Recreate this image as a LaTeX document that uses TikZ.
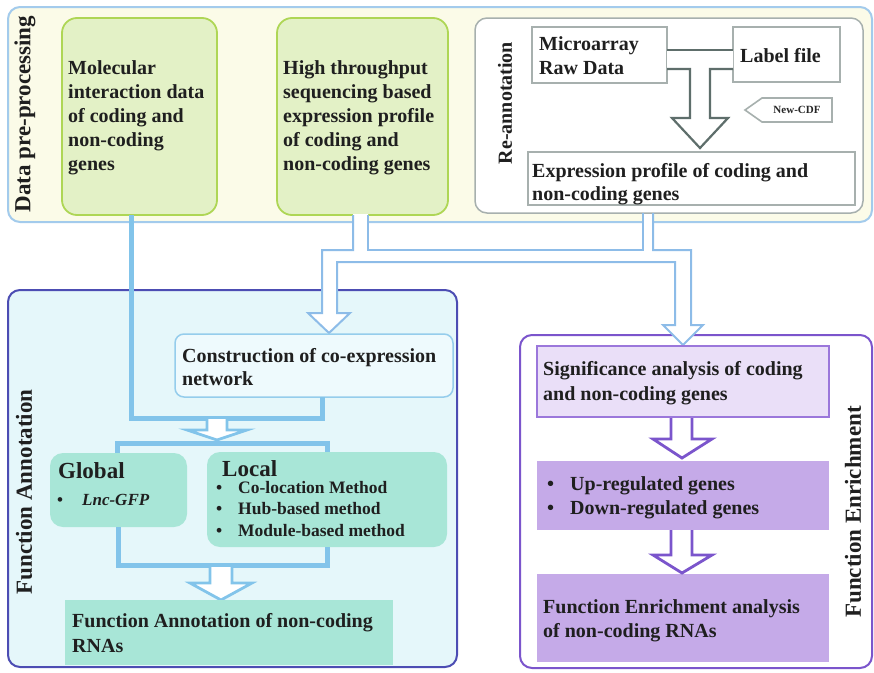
\documentclass[tikz,border=0pt]{standalone}
\usepackage{fontspec}
\setmainfont{Liberation Serif}
\usetikzlibrary{calc}

\definecolor{prepBorder}{HTML}{A3CBEC}
\definecolor{prepFill}{HTML}{FBFBE8}
\definecolor{greenFill}{HTML}{E3F1C6}
\definecolor{greenBorder}{HTML}{AED655}
\definecolor{grayBorder}{HTML}{A7B0AE}
\definecolor{tDark}{HTML}{5E6E6B}
\definecolor{annBorder}{HTML}{4C4DB3}
\definecolor{annFill}{HTML}{E5F7FA}
\definecolor{coexFill}{HTML}{EEFAFD}
\definecolor{coexBorder}{HTML}{95CDEC}
\definecolor{mint}{HTML}{A8E6D7}
\definecolor{flowBlue}{HTML}{82C4EA}
\definecolor{pipeBlue}{HTML}{8DBCE8}
\definecolor{enrBorder}{HTML}{7B55CC}
\definecolor{sigFill}{HTML}{EADFF8}
\definecolor{sigBorder}{HTML}{9B77DB}
\definecolor{lav}{HTML}{C5AAE8}

\tikzset{
  box/.style={rectangle, inner sep=0pt, outer sep=0pt},
  panel/.style={box, rounded corners=12pt, line width=2pt},
  greenbox/.style={box, rounded corners=15pt, draw=greenBorder, fill=greenFill, line width=1.8pt},
  graybox/.style={box, draw=grayBorder, fill=white, line width=2pt},
  coexbox/.style={box, rounded corners=9pt, draw=coexBorder, fill=coexFill, line width=1.5pt},
  mintbox/.style={box, fill=mint},
  mintround/.style={box, fill=mint, rounded corners=13pt},
  sigbox/.style={box, draw=sigBorder, fill=sigFill, line width=2pt},
  lavbox/.style={box, fill=lav},
  body/.style={font=\fontsize{20}{24}\selectfont\bfseries, align=left, inner sep=0pt, anchor=north west, text=black!88},
  sidelabel/.style={font=\fontsize{23}{27}\selectfont\bfseries, inner sep=0pt, rotate=90, text=black!88},
  flow/.style={draw=flowBlue, line width=5pt},
  hollow/.style={draw=flowBlue, fill=white, line width=2.8pt, line join=miter},
  pipe/.style={draw=pipeBlue, line width=2pt, line join=miter},
  purplearrow/.style={draw=enrBorder, fill=white, line width=2.8pt, line join=miter},
  tline/.style={draw=tDark, line width=2.2pt, line join=miter},
}

\begin{document}
\begin{tikzpicture}[x=1pt, y=-1pt]
\useasboundingbox (0,0) rectangle (874,672);

% ---------- Data pre-processing ----------
\node[panel, draw=prepBorder, fill=prepFill, minimum width=864pt, minimum height=215pt] (prep) at (440,114.5) {};
\node[sidelabel] (preplab) at (25,114) {Data pre-processing};

\node[greenbox, minimum width=155pt, minimum height=197pt] (mol) at (139.5,116.5) {};
\node[body] (moltext) at (68,60) {Molecular\\interaction data\\of coding and\\non-coding\\genes};

\node[greenbox, minimum width=171pt, minimum height=197pt] (hts) at (362.5,116.5) {};
\node[body] (htstext) at (283,60) {High throughput\\sequencing based\\expression profile\\of coding and\\non-coding genes};

% re-annotation block
\node[box, rounded corners=12pt, draw=grayBorder, fill=white, line width=1.5pt, minimum width=388pt, minimum height=195pt] (reann) at (669,115.5) {};
\node[sidelabel, font=\fontsize{20}{24}\selectfont\bfseries] (reannlab) at (505,103) {Re-annotation};

\node[graybox, minimum width=135pt, minimum height=56pt] (micro) at (599.5,55) {};
\node[body] (microtext) at (539,36) {Microarray\\Raw Data};
\node[graybox, minimum width=107pt, minimum height=55pt] (lab) at (786.5,54.5) {};
\node[body, anchor=base west] (labtext) at (740,62) {Label file};

% merge arrow between raw data / label file and the expression profile
\coordinate (tl) at (micro.east |- 0,50);
\coordinate (tr) at (lab.west |- 0,50);
\fill[white] (tl) -- (tr) -- (lab.west |- 0,69) -- (710,69) -- (710,118) -- (728,118) -- (700,148)
  -- (672,118) -- (690,118) -- (690,69) -- (micro.east |- 0,69) -- cycle;
\draw[tline] (tl) -- (tr);
\draw[tline] (micro.east |- 0,69) -- (690,69) -- (690,118) -- (672,118) -- (700,148)
  -- (728,118) -- (710,118) -- (710,69) -- (lab.west |- 0,69);

% New-CDF tag
\draw[draw=grayBorder, fill=white, line width=1.6pt] (745,110) -- (762,98) -- (832,98) -- (832,122) -- (762,122) -- cycle;
\node[font=\fontsize{11}{13}\selectfont\bfseries, inner sep=0pt, text=black!85] (cdf) at (797,110) {New-CDF};

\node[graybox, minimum width=327pt, minimum height=53pt] (expr) at (691.5,178.5) {};
\node[body, font=\fontsize{20}{23}\selectfont\bfseries] (exprtext) at (532,163) {Expression profile of coding and\\non-coding genes};

% ---------- Function Annotation ----------
\node[panel, draw=annBorder, fill=annFill, minimum width=449pt, minimum height=377pt] (ann) at (232.5,478.5) {};
\node[sidelabel] (annlab) at (24,492) {Function Annotation};

% ---------- Function Enrichment ----------
\node[panel, draw=enrBorder, fill=white, minimum width=352pt, minimum height=333pt] (enr) at (696,501.5) {};
\node[sidelabel] (enrlab) at (853,512) {Function Enrichment};

% split pipe from the expression profiles to both branches
\fill[white] (353,214) -- (353,250) -- (322,250) -- (322,313) -- (308,313) -- (329,333) -- (350,313)
  -- (337,313) -- (337,262) -- (675,262) -- (675,325) -- (663,325) -- (683,345) -- (703,325)
  -- (691,325) -- (691,250) -- (653,250) -- (653,214) -- (643,214) -- (643,250) -- (368,250)
  -- (368,214) -- cycle;
\draw[pipe] (hts.south -| 353,0) -- (353,250) -- (322,250) -- (322,313) -- (308,313) -- (329,333)
  -- (350,313) -- (337,313) -- (337,262) -- (675,262) -- (675,325) -- (663,325) -- (683,345)
  -- (703,325) -- (691,325) -- (691,250) -- (653,250) -- (reann.south -| 653,0);
\draw[pipe] (reann.south -| 643,0) -- (643,250) -- (368,250) -- (hts.south -| 368,0);

% interaction data feeds the annotation step
\coordinate (j1) at (322,418);
\draw[flow] (mol.south -| 131,0) |- (j1);

\node[coexbox, minimum width=278pt, minimum height=63pt] (coex) at (314,365.5) {};
\node[body, font=\fontsize{20}{23}\selectfont\bfseries] (coextext) at (182,348) {Construction of co-expression\\network};
\draw[flow] (coex.south -| j1) -- ([yshift=-2.5pt]j1);

\draw[hollow] (207,419) -- (207,430) -- (187,430) -- (217,440) -- (247,430) -- (227,430) -- (227,419);

% global / local strategies
\coordinate (j2) at (117,443);
\coordinate (j3) at (327,443);
\draw[flow] (117,470) -- (j2) -- (j3) -- (327,470);
\node[mintround, minimum width=137pt, minimum height=74pt] (global) at (118.5,490) {};
\node[mintround, minimum width=240pt, minimum height=95pt] (local) at (327,499.5) {};

\node[font=\fontsize{23}{27}\selectfont\bfseries, inner sep=0pt, anchor=base west, text=black!88] (globaltext) at (58,478) {Global};
\node[font=\fontsize{17}{20}\selectfont\bfseries, inner sep=0pt, anchor=base west, text=black!88] (lnc) at (57,505) {\makebox[25pt][l]{\textbullet}\textit{Lnc-GFP}};
\node[font=\fontsize{23}{27}\selectfont\bfseries, inner sep=0pt, anchor=base west, text=black!88] (localtext) at (222,476) {Local};
\node[body, font=\fontsize{17.5}{21.5}\selectfont\bfseries] (locallist) at (216,481)
  {\makebox[22pt][l]{\textbullet}Co-location Method\\\makebox[22pt][l]{\textbullet}Hub-based method\\\makebox[22pt][l]{\textbullet}Module-based method};

\coordinate (j4) at (118,565);
\coordinate (j5) at (327,565);
\draw[flow] (global.south -| j4) -- (j4) -- (j5) -- (local.south -| j5);
\draw[hollow] (210,567) -- (210,583) -- (190,583) -- (221,600) -- (252,583) -- (232,583) -- (232,567);

\node[mintbox, minimum width=328pt, minimum height=65pt] (fannot) at (229,632.5) {};
\node[body, font=\fontsize{20}{25}\selectfont\bfseries] (fannottext) at (72,613) {Function Annotation of non-coding\\RNAs};

% enrichment chain
\node[sigbox, minimum width=292pt, minimum height=71pt] (sig) at (683,381.5) {};
\node[body, font=\fontsize{20}{25}\selectfont\bfseries] (sigtext) at (543,361) {Significance analysis of coding\\and non-coding genes};

\node[lavbox, minimum width=292pt, minimum height=69pt] (updown) at (683,495.5) {};
\node[body] (updowntext) at (547,476) {\makebox[23pt][l]{\textbullet}Up-regulated genes\\\makebox[23pt][l]{\textbullet}Down-regulated genes};

\node[lavbox, minimum width=292pt, minimum height=88pt] (fenr) at (683,618) {};
\node[body] (fenrtext) at (543,599) {Function Enrichment analysis\\of non-coding RNAs};

\draw[purplearrow] (671,418) -- (671,439) -- (653,439) -- (682,458) -- (712,439) -- (692,439) -- (692,418);
\draw[purplearrow] (671,530) -- (671,555) -- (653,555) -- (682,573) -- (712,555) -- (692,555) -- (692,530);

\end{tikzpicture}
\end{document}
